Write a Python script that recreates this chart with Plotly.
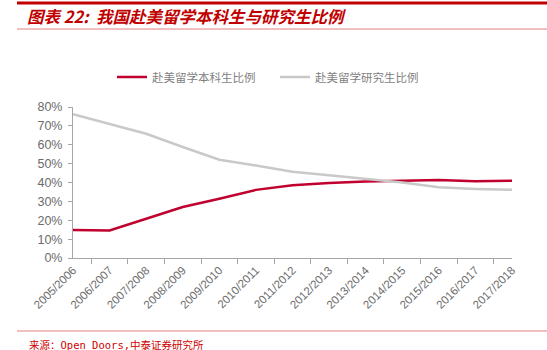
import plotly.graph_objects as go

categories = ["2005/2006", "2006/2007", "2007/2008", "2008/2009", "2009/2010",
              "2010/2011", "2011/2012", "2012/2013", "2013/2014", "2014/2015",
              "2015/2016", "2016/2017", "2017/2018"]
undergrad = [0.148, 0.146, 0.208, 0.270, 0.314, 0.361, 0.385, 0.398, 0.405, 0.410, 0.413, 0.407, 0.409]
graduate = [0.762, 0.711, 0.658, 0.588, 0.521, 0.490, 0.457, 0.439, 0.421, 0.400, 0.375, 0.366, 0.361]

series_names = ["赴美留学本科生比例", "赴美留学研究生比例"]
title_text = "图表 22:  我国赴美留学本科生与研究生比例"
source_text = "来源：Open Doors,中泰证券研究所"

W, H = 547, 350
L, R, T, B = 73, 35, 107, 92
pw, ph = W - L - R, H - T - B

def px(x):
    return (x - L) / pw

def py(y):
    return (H - B - y) / ph

fig = go.Figure()
fig.add_trace(go.Scatter(x=categories, y=undergrad, mode="lines", name=series_names[0],
                         line=dict(color="#C0002F", width=2.5)))
fig.add_trace(go.Scatter(x=categories, y=graduate, mode="lines", name=series_names[1],
                         line=dict(color="#C9C9C9", width=2.5)))

axis_color = "#A6A6A6"
xtick_font = dict(family="Liberation Sans, Arial, sans-serif", size=11.5, color="#6B6B6B")
ytick_font = dict(family="Liberation Sans, Arial, sans-serif", size=12.5, color="#6B6B6B")

fig.update_layout(
    width=W, height=H,
    margin=dict(l=L, r=R, t=T, b=B),
    paper_bgcolor="white", plot_bgcolor="white",
    showlegend=True,
    legend=dict(orientation="h", x=px(112), y=py(77), xanchor="left", yanchor="middle",
                font=dict(family="Noto Sans CJK SC", size=11.5, color="#7F7F7F"),
                itemwidth=30, entrywidth=118, tracegroupgap=0, bgcolor="rgba(0,0,0,0)"),
    xaxis=dict(type="category", showline=True, linecolor=axis_color, linewidth=1,
               ticks="outside", tickson="boundaries", ticklen=5, tickcolor=axis_color,
               tickangle=-45, tickfont=xtick_font, showgrid=False, zeroline=False),
    yaxis=dict(range=[0, 0.8], dtick=0.1, tickformat=".0%", showline=True,
               linecolor=axis_color, linewidth=1, ticks="outside", ticklen=4,
               tickcolor=axis_color, tickfont=ytick_font, ticklabelstandoff=3,
               showgrid=False, zeroline=False),
    title=dict(text="<b><i>" + title_text + "</i></b>", xref="container", yref="container",
               x=27 / W, y=1 - 17 / H, xanchor="left", yanchor="middle",
               font=dict(family="Noto Sans CJK SC", size=16.5, color="#C00000", style="italic")),
)

fig.add_annotation(text=source_text, xref="paper", yref="paper", x=px(27), y=py(345),
                   xanchor="left", yanchor="middle", showarrow=False,
                   font=dict(family="DejaVu Sans Mono, Noto Sans CJK SC", size=10.5, color="#D00000"))

fig.add_shape(type="line", xref="paper", yref="paper", x0=px(17), x1=px(547), y0=py(3), y1=py(3),
              line=dict(color="#C00000", width=3))
fig.add_shape(type="line", xref="paper", yref="paper", x0=px(17), x1=px(547), y0=py(29), y1=py(29),
              line=dict(color="#E08080", width=1))
fig.add_shape(type="line", xref="paper", yref="paper", x0=px(17), x1=px(547), y0=py(331), y1=py(331),
              line=dict(color="#E08080", width=1))

fig.write_html("out.html")
